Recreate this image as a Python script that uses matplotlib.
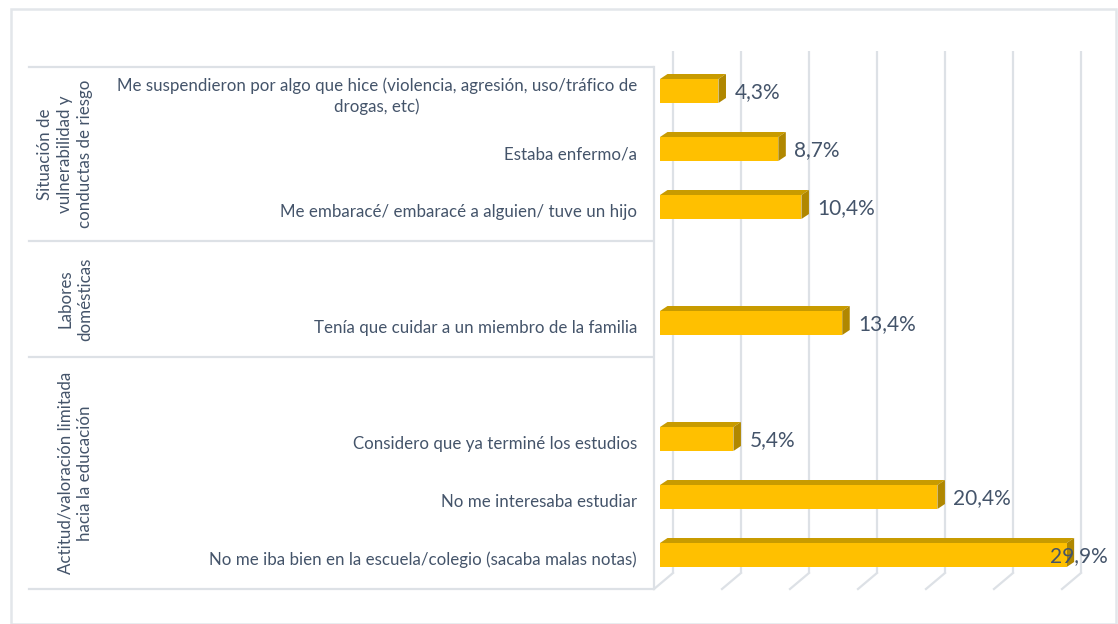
import numpy as np
import matplotlib
matplotlib.use("Agg")
import matplotlib.pyplot as plt
from matplotlib.patches import Polygon, Rectangle

# %%
# data (top to bottom, empty slots are blank Excel categories)
categories = [
    "Me suspendieron por algo que hice (violencia, agresión, uso/tráfico de\ndrogas, etc)",
    "Estaba enfermo/a",
    "Me embaracé/ embaracé a alguien/ tuve un hijo",
    "",
    "Tenía que cuidar a un miembro de la familia",
    "",
    "Considero que ya terminé los estudios",
    "No me interesaba estudiar",
    "No me iba bien en la escuela/colegio (sacaba malas notas)",
]
values = [4.3, 8.7, 10.4, None, 13.4, None, 5.4, 20.4, 29.9]
group_names = [
    "Situación de\nvulnerabilidad y\nconductas de riesgo",
    "Labores\ndomésticas",
    "Actitud/valoración limitada\nhacia la educación",
]
group_sizes = [3, 2, 4]
ticks = [0, 5, 10, 15, 20, 25, 30]

# %%
W, H = 1118, 624
txt_col = "#44546A"
grid_col = "#DDE1E6"
front_col = "#FFC000"
top_col = "#C89B00"
side_col = "#B08700"
plt.rcParams["font.family"] = ["Lato", "DejaVu Sans"]

fig = plt.figure(figsize=(W / 100, H / 100), dpi=100)

# plot area in pixels (front plane)
px_left, px_right, px_top, px_bot = 653, 1112, 67, 589
px_per_pct = 13.6
px_zero = 660
n = len(categories)
px_per_slot = (px_bot - px_top) / n

ax = fig.add_axes([px_left / W, 1 - px_bot / H, (px_right - px_left) / W, (px_bot - px_top) / H])
x0 = (px_left - px_zero) / px_per_pct
x1 = x0 + (px_right - px_left) / px_per_pct
ax.set_xlim(x0, x1)
ax.set_ylim(n, 0)
ax.axis("off")

# depth offsets in data units
back_dx = 13 / px_per_pct
back_dy = 16 / px_per_slot
front_dx = (654 - px_zero) / px_per_pct
bar_dx = 7.5 / px_per_pct
bar_dy = 5 / px_per_slot
bar_h = 24 / px_per_slot
bar_shift = 5 / px_per_slot

# grid walls
for t in ticks:
    ax.plot([t + back_dx, t + back_dx], [-back_dy, n - back_dy], color=grid_col, lw=1.6,
            clip_on=False, zorder=1, solid_capstyle="butt")
    ax.plot([t + back_dx, t + front_dx], [n - back_dy, n], color=grid_col, lw=1.6,
            clip_on=False, zorder=1)
ax.plot([front_dx, front_dx], [0, n], color=grid_col, lw=1.6, clip_on=False, zorder=1)

# 3D bars
for i, v in enumerate(values):
    if v is None:
        continue
    yc = i + 0.5 - bar_shift
    yt, yb = yc - bar_h / 2, yc + bar_h / 2
    ax.add_patch(Polygon([(0, yt), (v, yt), (v + bar_dx, yt - bar_dy), (bar_dx, yt - bar_dy)],
                         closed=True, fc=top_col, ec="none", zorder=3))
    ax.add_patch(Polygon([(v, yt), (v, yb), (v + bar_dx, yb - bar_dy), (v + bar_dx, yt - bar_dy)],
                         closed=True, fc=side_col, ec="none", zorder=3))
    ax.add_patch(Rectangle((0, yt), v, bar_h, fc=front_col, ec="none", zorder=4))
    lab = f"{v:.1f}".replace(".", ",") + "%"
    lx = v + 16 / px_per_pct
    if lx + 58 / px_per_pct > x1:
        ax.text(x1 - 4 / px_per_pct, yc + 0.02, lab, ha="right", va="center",
                fontsize=15, color=txt_col, zorder=5)
    else:
        ax.text(lx, yc + 0.02, lab, ha="left", va="center", fontsize=15, color=txt_col, zorder=5)

# %%
# label area
lab_left = 29
lax = fig.add_axes([lab_left / W, 1 - px_bot / H, (px_left - lab_left) / W, (px_bot - px_top) / H])
lax.set_xlim(lab_left, px_left)
lax.set_ylim(n, 0)
lax.axis("off")

bounds = np.concatenate([[0], np.cumsum(group_sizes)])
for b in bounds:
    lax.plot([lab_left, px_left], [b, b], color=grid_col, lw=1.6, clip_on=False)

group_x = [65, 75, 75]
for g, name in enumerate(group_names):
    yc = (bounds[g] + bounds[g + 1]) / 2
    lax.text(group_x[g], yc, name, rotation=90, ha="center", va="center",
             multialignment="center", fontsize=12.2, color=txt_col, linespacing=1.3)

for i, c in enumerate(categories):
    if c:
        lax.text(637, i + 0.5, c, ha="right", va="center", multialignment="center",
                 fontsize=12.2, color=txt_col, linespacing=1.3)

# outer border
fig.add_artist(Rectangle((11 / W, 0), (1116 - 11) / W, (H - 9) / H, transform=fig.transFigure,
                         fill=False, ec="#E3E6EA", lw=1.8))

fig.savefig("out.png", dpi=100, facecolor="white")
